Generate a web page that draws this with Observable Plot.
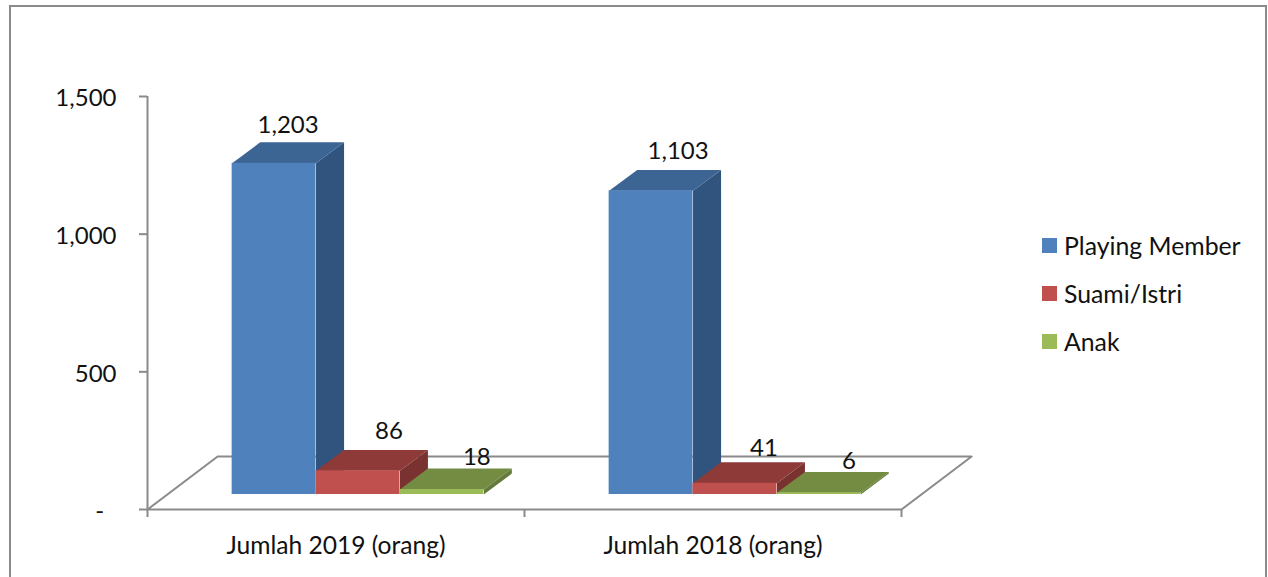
<!DOCTYPE html>
<html>
<head>
<meta charset="utf-8">
<script src="https://cdn.jsdelivr.net/npm/d3@7"></script>
<script src="https://cdn.jsdelivr.net/npm/@observablehq/plot@0.6"></script>
<style>
  html, body { margin: 0; padding: 0; background: #fff; overflow: hidden; }
  body { width: 1268px; height: 577px; position: relative; font-family: Lato, "Open Sans", sans-serif; }
  #frame { position: absolute; left: 9px; top: 5px; width: 1254px; height: 640px; border: 2px solid #8a8a8a; box-sizing: content-box; }
  #chart { position: absolute; left: 0; top: 0; }
  #legend { position: absolute; left: 1042px; top: 221px; font-size: 24.8px; color: #111; }
  .item { display: flex; align-items: center; height: 48px; }
  .swatch { width: 15px; height: 15px; margin-right: 7px; }
</style>
</head>
<body>
<div id="frame"></div>
<div id="chart"></div>
<div id="legend"></div>
<script>
// Data
const categories = ["Jumlah 2019 (orang)", "Jumlah 2018 (orang)"];
const seriesNames = ["Playing Member", "Suami/Istri", "Anak"];
const playingMember = [1203, 1103];
const suamiIstri = [86, 41];
const anak = [18, 6];
const yTicks = [0, 500, 1000, 1500];

// Style
const frontColors = ["#4F81BD", "#C0504D", "#9BBB59"];
const topColors = ["#3D6594", "#8D3A38", "#748B42"];
const sideColors = ["#31547E", "#7A3230", "#657A3A"];
const axisColor = "#8a8a8a";

// Oblique projection, in scale units
const barW = 0.2225, groupLead = 0.2245;
const baseLift = 54.5;            // bars stand this far above the floor's front edge
const depthX = 0.0744, depthY = 76;   // bar depth
const floorX = 0.186, floorY = 192.5; // floor depth

const seriesValues = [playingMember, suamiIstri, anak];
const bars = categories.flatMap((c, g) => seriesValues.map((vals, s) => {
  const x1 = g + groupLead + s * barW;
  return {g, s, value: vals[g], x1, x2: x1 + barW, y1: baseLift, y2: baseLift + vals[g]};
}));

const faces = bars.flatMap((b, i) => {
  const side = [[b.x2, b.y1], [b.x2 + depthX, b.y1 + depthY], [b.x2 + depthX, b.y2 + depthY], [b.x2, b.y2]];
  const top = [[b.x1, b.y2], [b.x2, b.y2], [b.x2 + depthX, b.y2 + depthY], [b.x1 + depthX, b.y2 + depthY]];
  return [
    ...side.map(([x, y]) => ({id: `s${i}`, x, y, fill: sideColors[b.s]})),
    ...top.map(([x, y]) => ({id: `t${i}`, x, y, fill: topColors[b.s]}))
  ];
});

const floor = [[0, 0], [2, 0], [2 + floorX, floorY], [floorX, floorY]].map(([x, y]) => ({x, y}));

// Hand-placed label nudges, as in the source chart
const labelNudge = [[0, -17], [17, -19], [21, -11], [13, -19], [15, -14], [16, -11]];
const labelMarks = bars.map((b, i) => Plot.text([b], {
  x: d => (d.x1 + d.x2) / 2 + depthX / 2,
  y: d => d.y2 + depthY,
  text: d => d3.format(",")(d.value),
  dx: labelNudge[i][0], dy: labelNudge[i][1],
  fill: "#111", fontSize: 24, textAnchor: "middle", lineAnchor: "middle"
}));

const plot = Plot.plot({
  width: 1268, height: 577,
  marginLeft: 147, marginRight: 367, marginTop: 96, marginBottom: 68,
  style: {fontFamily: "Lato, 'Open Sans', sans-serif", background: "transparent", overflow: "visible"},
  x: {type: "linear", domain: [0, 2], label: null},
  y: {domain: [0, 1500], label: null},
  color: {type: "identity"},
  marks: [
    Plot.line(floor, {x: "x", y: "y", curve: "linear-closed", stroke: axisColor, strokeWidth: 2, fill: "none"}),
    Plot.ruleX([0], {y1: 0, y2: 1500, stroke: axisColor, strokeWidth: 2}),
    Plot.axisY({ticks: yTicks, tickSize: 8, tickFormat: () => "", stroke: axisColor, strokeWidth: 2, strokeOpacity: 1, label: null}),
    Plot.axisY({ticks: yTicks, tickSize: 0, tickPadding: 31, dy: 2, fontSize: 24, fill: "#111", label: null,
      tickFormat: d => d === 0 ? "-\u00a0\u00a0" : d3.format(",")(d)}),
    Plot.axisX({ticks: [0, 1, 2], tickSize: 8, tickFormat: () => "", stroke: axisColor, strokeWidth: 2, strokeOpacity: 1, label: null}),
    Plot.axisX({ticks: [0.5, 1.5], tickSize: 0, tickPadding: 27, fontSize: 24.6, fill: "#111", label: null,
      tickFormat: d => categories[Math.floor(d)]}),
    Plot.line(faces, {x: "x", y: "y", z: "id", fill: "fill", stroke: "none", curve: "linear-closed"}),
    Plot.rect(bars, {x1: "x1", x2: "x2", y1: "y1", y2: "y2", fill: d => frontColors[d.s]}),
    ...labelMarks
  ]
});
document.getElementById("chart").append(plot);

const legend = document.getElementById("legend");
seriesNames.forEach((name, i) => {
  const item = document.createElement("div");
  item.className = "item";
  item.innerHTML = `<span class="swatch" style="background:${frontColors[i]}"></span><span>${name}</span>`;
  legend.append(item);
});
</script>
</body>
</html>
